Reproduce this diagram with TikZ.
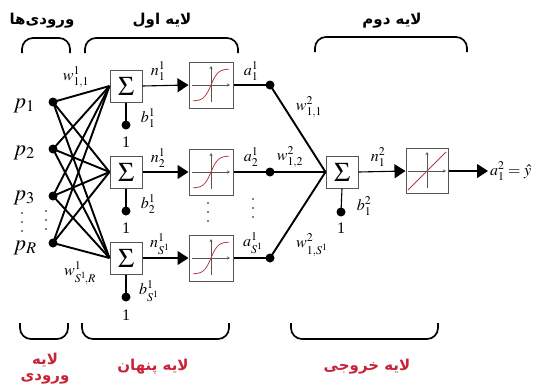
\RequirePackage{fix-cm}
\documentclass[tikz,border=0pt]{standalone}
\usepackage{mathptmx}
\usepackage{fontspec}
\setmainfont{Liberation Serif}
\usetikzlibrary{arrows.meta}
\TeXXeTstate=1
\newfontfamily\arabicfont[Script=Arabic]{DejaVu Sans}
\definecolor{labelred}{RGB}{200,35,55}
\definecolor{boxgray}{RGB}{85,85,85}
\definecolor{curvered}{RGB}{180,60,65}

\begin{document}
\begin{tikzpicture}[x=1pt,y=-1pt,
  wire/.style={line width=1.9pt},
  thinwire/.style={line width=1.1pt},
  dotnode/.style={circle,fill,inner sep=0pt,minimum size=9pt},
  sumbox/.style={draw=boxgray,line width=1pt,minimum size=32pt,inner sep=0pt,fill=white,
    font=\fontsize{27}{27}\selectfont},
  tfbox/.style={draw=boxgray,line width=1pt,minimum width=44pt,minimum height=46pt,inner sep=0pt},
  lbl/.style={font=\fontsize{16}{17}\selectfont,inner sep=0pt},
  plbl/.style={font=\fontsize{22}{22}\selectfont,inner sep=0pt},
  fa/.style={font=\arabicfont\bfseries\fontsize{15}{17}\selectfont,inner sep=0pt},
  brace/.style={line width=1.7pt,rounded corners=11pt},
  tip/.style={-{Triangle[length=11pt,width=14pt]}},
  axis/.style={boxgray,line width=0.6pt,-{Stealth[length=3pt,width=3pt]}},
  tansig/.pic={
    \draw[axis] (-19,0) -- (19,0);
    \draw[axis] (0,17) -- (0,-19);
    \draw[curvered,line width=0.8pt] plot[domain=-18:18,samples=40,smooth] (\x,{-16*tanh(\x/7)});
  },
  purelin/.pic={
    \draw[axis] (-19,0) -- (19,0);
    \draw[axis] (0,17) -- (0,-19);
    \draw[curvered,line width=0.8pt] (-19,19) -- (19,-19);
  }
]
\useasboundingbox (0,0) rectangle (541,389);

% group captions
\node[fa] (capin) at (42,21) {\beginR ورودی‌ها\endR};
\node[fa] (capl1) at (162,21) {\beginR لایه اول\endR};
\node[fa] (capl2) at (392,21) {\beginR لایه دوم\endR};

% upper braces
\draw[brace] (22,53) -- (22,38) -- (70,38) -- (70,53);
\draw[brace] (85,53) -- (85,38) -- (238,38) -- (238,53);
\draw[brace] (315,52) -- (315,37) -- (467,37) -- (467,52);

% lower braces
\draw[brace] (20,323) -- (20,339) -- (68,339) -- (68,323);
\draw[brace] (82,323) -- (82,339) -- (229,339) -- (229,323);
\draw[brace] (291,323) -- (291,339) -- (438,339) -- (438,323);

% lower captions
\node[fa,labelred] (capinA) at (45,360) {\beginR لایه\endR};
\node[fa,labelred] (capinB) at (45,379) {\beginR ورودی\endR};
\node[fa,labelred] (caphid) at (153,367) {\beginR لایه پنهان\endR};
\node[fa,labelred] (capout) at (367,367) {\beginR لایه خروجی\endR};

% inputs
\node[dotnode] (in1) at (53,102) {};
\node[dotnode] (in2) at (53,149) {};
\node[dotnode] (in3) at (53,196) {};
\node[dotnode] (in4) at (53,243) {};
\node[plbl] (p1) at (24,106) {$p_1$};
\node[plbl] (p2) at (24,153) {$p_2$};
\node[plbl] (p3) at (24,198) {$p_3$};
\node[plbl] (pR) at (25,248) {$p_R$};
\foreach \yy in {213,222,231} \fill (22,\yy) circle (0.9pt);
\foreach \yy in {211,220,229} \fill (46,\yy) circle (0.9pt);

% first layer summing junctions
\node[sumbox] (s1) at (126,86) {$\Sigma$};
\node[sumbox] (s2) at (126,172) {$\Sigma$};
\node[sumbox] (s3) at (126,258) {$\Sigma$};

\foreach \i in {1,...,4}
  \foreach \j in {1,2,3}
    \draw[wire] (in\i.center) -- (s\j.west);

\node[lbl] (w11) at (76,77) {$w^{1}_{1,1}$};
\node[lbl] (wSR) at (80,273) {$w^{1}_{S^1\!,R}$};

% biases of the first layer
\node[dotnode] (bd1) at (126,125) {};
\node[dotnode] (bd2) at (126,211) {};
\node[dotnode] (bd3) at (126,297) {};
\foreach \j in {1,2,3} \draw[thinwire] (s\j.south) -- (bd\j.center);
\node[lbl] (one1) at (126,142) {1};
\node[lbl] (one2) at (126,228) {1};
\node[lbl] (one3) at (126,315) {1};
\node[lbl] (b1) at (148,118) {$b^{1}_{1}$};
\node[lbl] (b2) at (148,204) {$b^{1}_{2}$};
\node[lbl] (b3) at (149,291) {$b^{1}_{S^1}$};

% first layer transfer functions
\node[tfbox] (t1) at (211,85) {};
\node[tfbox] (t2) at (211,172) {};
\node[tfbox] (t3) at (211,258) {};
\pic at (t1) {tansig};
\pic at (t2) {tansig};
\pic at (t3) {tansig};
\foreach \j in {1,2,3} \draw[thinwire,tip] (s\j.east) -- (t\j.west);
\node[lbl] (n1) at (158,71) {$n^{1}_{1}$};
\node[lbl] (n2) at (158,158) {$n^{1}_{2}$};
\node[lbl] (n3) at (160,244) {$n^{1}_{S^1}$};
\foreach \yy in {203,212,221} \fill (208,\yy) circle (0.9pt);
\foreach \yy in {199,208,217} \fill (253,\yy) circle (0.9pt);

% first layer outputs
\node[dotnode] (o1) at (270,85) {};
\node[dotnode] (o2) at (270,172) {};
\node[dotnode] (o3) at (270,258) {};
\foreach \j in {1,2,3} \draw[thinwire] (t\j.east) -- (o\j.center);
\node[lbl] (a1) at (251,71) {$a^{1}_{1}$};
\node[lbl] (a2) at (251,157) {$a^{1}_{2}$};
\node[lbl] (a3) at (253,243) {$a^{1}_{S^1}$};

% second layer
\node[sumbox] (s4) at (342,172) {$\Sigma$};
\foreach \j in {1,2,3} \draw[wire] (o\j.center) -- (s4.west);
\node[lbl] (w21) at (309,107) {$w^{2}_{1,1}$};
\node[lbl] (w22) at (290,157) {$w^{2}_{1,2}$};
\node[lbl] (w2S) at (312,245) {$w^{2}_{1,S^1}$};

\node[dotnode] (bd4) at (341,212) {};
\draw[thinwire] (s4.south) -- (bd4.center);
\node[lbl] (one4) at (341,228) {1};
\node[lbl] (b4) at (364,206) {$b^{2}_{1}$};

\node[tfbox,minimum width=42pt,minimum height=45pt] (t4) at (427,171) {};
\pic at (t4) {purelin};
\draw[thinwire,tip] (s4.east) -- (t4.west);
\node[lbl] (n4) at (378,157) {$n^{2}_{1}$};

\node[lbl,anchor=west,inner sep=2pt] (yout) at (488,171) {$a^{2}_{1}=\hat{y}$};
\draw[thinwire,tip] (t4.east) -- (yout.west);
\end{tikzpicture}
\end{document}
